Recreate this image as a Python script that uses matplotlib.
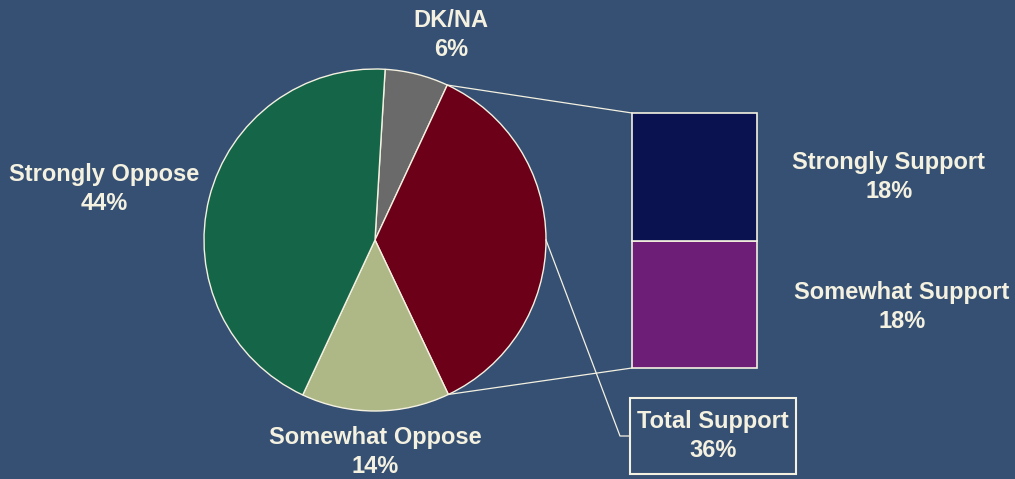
import matplotlib.pyplot as plt
from matplotlib.patches import ConnectionPatch, Rectangle
import numpy as np

# main pie: opinion shares (%)
pie_labels = ['DK/NA', 'Total Support', 'Somewhat Oppose', 'Strongly Oppose']
pie_values = [6, 36, 14, 44]
pie_colors = ['#6a6a6a', '#6c0019', '#aeb887', '#156648']

# breakdown of the support slice
bar_labels = ['Strongly Support', 'Somewhat Support']
bar_values = [18, 18]
bar_colors = ['#0a124f', '#6d1f78']

bg = '#355073'
fg = '#f4f1e1'

plt.rcParams['font.family'] = ['Liberation Sans', 'DejaVu Sans']

W, H = 1015, 479
fig = plt.figure(figsize=(W / 100, H / 100), dpi=100, facecolor=bg)
ax = fig.add_axes([0, 0, 1, 1])
ax.set_facecolor(bg)

cx, cy, r = 375, H - 240, 171
start = 86.6
wedges, _ = ax.pie(pie_values, colors=pie_colors, center=(cx, cy), radius=r,
                   startangle=start, counterclock=False,
                   wedgeprops=dict(edgecolor=fg, linewidth=1.0))
ax.set_xlim(0, W)
ax.set_ylim(0, H)
ax.set_aspect('auto')
ax.axis('off')

# stacked bar for the support breakdown
bx0, bx1, by0, by1 = 632, 757, H - 368, H - 113
ax2 = fig.add_axes([bx0 / W, by0 / H, (bx1 - bx0) / W, (by1 - by0) / H])
bottom = 0
for v, c in zip(bar_values[::-1], bar_colors[::-1]):
    ax2.bar(0, v, bottom=bottom, width=1, color=c, edgecolor=fg,
            linewidth=1.2, clip_on=False)
    bottom += v
ax2.set_xlim(-0.5, 0.5)
ax2.set_ylim(0, sum(bar_values))
ax2.axis('off')

# connector lines from the support wedge to the bar
w = wedges[1]
for ang, ypos in [(w.theta2, sum(bar_values)), (w.theta1, 0)]:
    px = cx + r * np.cos(np.radians(ang))
    py = cy + r * np.sin(np.radians(ang))
    con = ConnectionPatch(xyA=(px, py), coordsA=ax.transData,
                          xyB=(-0.5, ypos), coordsB=ax2.transData,
                          color=fg, linewidth=0.9)
    fig.add_artist(con)

txt = dict(color=fg, fontsize=17, fontweight='bold', ha='center', va='center',
           linespacing=1.36)

ax.text(451, H - 35, f'{pie_labels[0]}\n{pie_values[0]}%', **txt)
ax.text(375, H - 452, f'{pie_labels[2]}\n{pie_values[2]}%', **txt)
ax.text(104, H - 189, f'{pie_labels[3]}\n{pie_values[3]}%', **txt)
ax.text(889, H - 177, f'{bar_labels[0]}\n{bar_values[0]}%', **txt)
ax.text(902, H - 307, f'{bar_labels[1]}\n{bar_values[1]}%', **txt)

# total support callout
ax.add_patch(Rectangle((630, H - 474), 166, 76, facecolor='none',
                       edgecolor=fg, linewidth=1.5))
ax.text(713, H - 436, f'{pie_labels[1]}\n{pie_values[1]}%', **txt)
ax.plot([cx + r, 620, 630], [cy, H - 436, H - 436], color=fg, linewidth=0.9)

fig.savefig('out.png', dpi=100, facecolor=bg)
